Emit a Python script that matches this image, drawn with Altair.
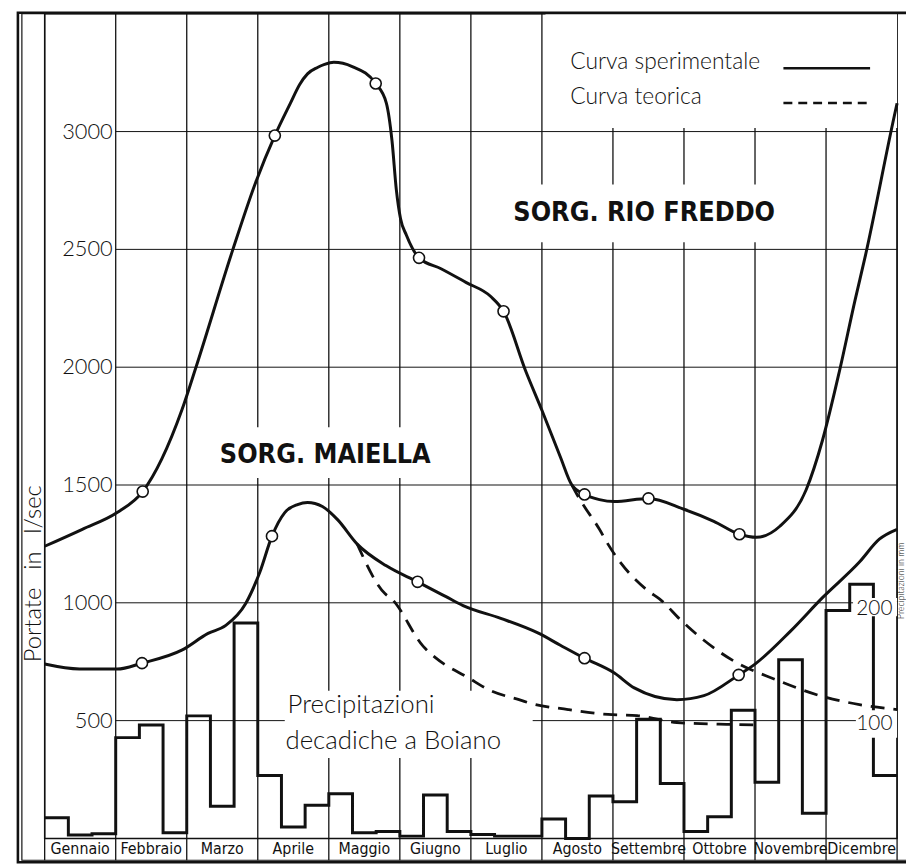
import altair as alt
import pandas as pd

# ---------------- data ----------------
months = ["Gennaio", "Febbraio", "Marzo", "Aprile", "Maggio", "Giugno",
          "Luglio", "Agosto", "Settembre", "Ottobre", "Novembre", "Dicembre"]

# precipitazioni decadiche a Boiano (mm), 3 decadi per mese
precip_mm = [18, 3, 4, 88, 99, 5, 107, 28, 188, 55, 10, 29,
             39, 5, 6, 2, 38, 6, 3.5, 2, 2, 17, 0, 37,
             32, 104, 48, 6, 19, 112, 49, 156, 22, 199, 222, 55]

portate_ticks = [500, 1000, 1500, 2000, 2500, 3000]
precip_ticks = [100, 200]

# Sorgente Rio Freddo - curva sperimentale (mese dall'inizio anno, l/sec)
rf_mese = [0.00, 0.53, 1.02, 1.38, 1.93, 2.13, 2.65, 2.97, 3.24, 3.46, 3.59, 3.70,
           3.84, 3.94, 4.07, 4.33, 4.66, 4.81, 4.89, 4.95, 5.01, 5.09, 5.27, 5.58, 5.93,
           6.28, 6.46, 6.77, 7.00, 7.26, 7.42, 7.60, 7.81, 8.02, 8.50, 9.00, 9.42,
           9.78, 10.02, 10.35, 10.72, 10.95, 11.19, 11.41, 11.55, 11.96, 12.00]
rf_portata = [1240, 1312, 1383, 1472, 1817, 2000, 2500, 2784, 2983, 3121, 3200, 3245,
              3272, 3285, 3294, 3276, 3204, 3121, 2960, 2755, 2630, 2562, 2464, 2418, 2360,
              2300, 2237, 1985, 1817, 1619, 1501, 1460, 1438, 1430, 1443, 1397, 1346,
              1291, 1278, 1325, 1480, 1690, 1985, 2287, 2468, 3065, 3120]

# Rio Freddo - curva teorica
rft_mese = [7.42, 7.51, 7.81, 7.93, 8.51, 8.65, 8.96, 9.28, 9.70, 10.30, 10.91, 11.47, 12.00]
rft_portata = [1501, 1451, 1312, 1249, 1047, 1018, 925, 841, 753, 673, 606, 568, 547]

# Sorgente Maiella - curva sperimentale
ma_mese = [0.00, 0.49, 1.02, 1.37, 1.93, 2.30, 2.55, 2.83, 3.03, 3.20, 3.38, 3.56,
           3.70, 3.91, 4.12, 4.40, 4.81, 5.25, 5.65, 5.89, 6.42, 6.95, 7.26, 7.60,
           8.02, 8.30, 8.90, 9.28, 9.77, 10.00, 10.50, 10.95, 11.47, 11.75, 12.00]
ma_portata = [740, 719, 719, 744, 799, 870, 904, 997, 1131, 1283, 1383, 1417,
              1426, 1409, 1354, 1249, 1157, 1089, 1026, 988, 934, 871, 820, 765,
              702, 639, 589, 606, 694, 740, 880, 1022, 1173, 1270, 1312]

# Maiella - curva teorica
mat_mese = [4.40, 4.79, 4.88, 5.33, 5.51, 5.97, 6.25, 6.72, 6.81, 7.37, 7.93, 8.34, 8.90, 9.60, 9.98]
mat_portata = [1249, 1039, 1018, 815, 765, 681, 631, 585, 576, 547, 526, 521, 492, 484, 482]

# punti sperimentali (cerchi)
rfp_mese = [1.38, 3.24, 4.66, 5.27, 6.46, 7.60, 8.50, 9.78]
rfp_portata = [1472, 2983, 3204, 2464, 2237, 1460, 1443, 1291]
map_mese = [1.37, 3.20, 5.25, 7.60, 9.77]
map_portata = [744, 1283, 1089, 765, 694]

# ---------------- helpers ----------------
XD, QD, PD = [0, 12], [0, 3500], [0, 720]
THIN = "Lato"
COND = "DejaVu Sans Condensed, Liberation Sans Narrow, DejaVu Sans"
INK = "#111111"


def X(f):
    return alt.X(f, type="quantitative", scale=alt.Scale(domain=XD, nice=False, zero=False), axis=None)


def Yq(f):
    return alt.Y(f, type="quantitative", scale=alt.Scale(domain=QD, nice=False), axis=None)


def Yp(f):
    return alt.Y(f, type="quantitative", scale=alt.Scale(domain=PD, nice=False), axis=None)


one = alt.Data(values=[{"k": 1}])

# ---------------- grid ----------------
grid_h = alt.Chart(pd.DataFrame({"q": portate_ticks, "x0": 1, "x1": 12})).mark_rule(
    color=INK, strokeWidth=1).encode(x=X("x0"), x2=alt.X2("x1"), y=Yq("q"))

grid_v = alt.Chart(pd.DataFrame({"m": list(range(13))})).mark_rule(
    color=INK, strokeWidth=1.3).encode(x=X("m"), y=alt.value(0), y2=alt.value(854))

# white areas behind the hand lettering (hide the grid there)
mask_df = pd.DataFrame({
    "x0": [7.05, 6.6, 2.6, 3.38],
    "x1": [12.0, 10.45, 5.6, 6.87],
    "y0": [3015, 2530, 1530, 341],
    "y1": [3500, 2775, 1745, 627],
})
masks = alt.Chart(mask_df).mark_rect(color="white").encode(
    x=X("x0"), x2=alt.X2("x1"), y=Yq("y0"), y2=alt.Y2("y1"))

# ---------------- precipitation steps ----------------
step_df = pd.DataFrame({"t": [i / 3 for i in range(36)] + [12],
                        "mm": precip_mm + [precip_mm[-1]]})
precip = alt.Chart(step_df).mark_line(
    interpolate="step-after", color=INK, strokeWidth=3).encode(x=X("t"), y=Yp("mm"))

rmask_df = pd.DataFrame({"x0": [11.38, 11.42], "x1": [12, 12], "y0": [194, 88], "y1": [210, 112]})
rmasks = alt.Chart(rmask_df).mark_rect(color="white").encode(
    x=X("x0"), x2=alt.X2("x1"), y=Yp("y0"), y2=alt.Y2("y1"))
rlabels = alt.Chart(pd.DataFrame({"mm": precip_ticks, "x": 11.68})).mark_text(
    font=THIN, fontWeight=300, fontSize=21, color=INK, baseline="middle").encode(
    x=X("x"), y=Yp("mm"), text=alt.Text("mm:Q", format="d"))

# ---------------- curves ----------------
def curve(xs, ys, dashed=False):
    kw = dict(interpolate="monotone", color=INK, strokeWidth=3)
    if dashed:
        kw.update(strokeDash=[14, 9], strokeWidth=2.8)
    return alt.Chart(pd.DataFrame({"m": xs, "q": ys})).mark_line(**kw).encode(
        x=X("m"), y=Yq("q"), order="m:Q")


rf = curve(rf_mese, rf_portata)
rft = curve(rft_mese, rft_portata, dashed=True)
ma = curve(ma_mese, ma_portata)
mat = curve(mat_mese, mat_portata, dashed=True)

pts_df = pd.DataFrame({"m": rfp_mese + map_mese, "q": rfp_portata + map_portata})
pts = alt.Chart(pts_df).mark_point(
    shape="circle", filled=True, fill="white", stroke=INK, strokeWidth=1.6,
    size=125, opacity=1).encode(x=X("m"), y=Yq("q"))

# ---------------- text ----------------
ylabels = alt.Chart(pd.DataFrame({"q": portate_ticks, "x": 1})).mark_text(
    font=THIN, fontWeight=300, fontSize=22, color=INK, align="right", baseline="middle", dx=-3).encode(
    x=X("x"), y=Yq("q"), text=alt.Text("q:Q", format="d"))

mlabels = alt.Chart(pd.DataFrame({"mc": [i + 0.5 for i in range(12)], "name": months})).mark_text(
    font=COND, fontSize=16, color=INK, baseline="middle").encode(
    x=X("mc"), y=alt.value(843), text="name:N")

titles = alt.Chart(pd.DataFrame({"x": [8.44, 3.95], "q": [2654, 1628],
                                 "t": ["SORG. RIO FREDDO", "SORG. MAIELLA"]})).mark_text(
    font=COND, fontWeight="bold", fontSize=27, color=INK, baseline="middle").encode(
    x=X("x"), y=Yq("q"), text="t:N")

prec_txt = alt.Chart(pd.DataFrame({"x": [3.42, 3.39], "q": [534, 379],
                                   "t": ["Precipitazioni", "decadiche a Boiano"]})).mark_text(
    font=THIN, fontWeight=300, fontSize=26, color=INK, align="left", baseline="alphabetic").encode(
    x=X("x"), y=Yq("q"), text="t:N")

leg_txt = alt.Chart(pd.DataFrame({"x": [7.40, 7.40], "q": [3264, 3117],
                                  "t": ["Curva sperimentale", "Curva teorica"]})).mark_text(
    font=THIN, fontWeight=300, fontSize=23, color=INK, align="left", baseline="alphabetic").encode(
    x=X("x"), y=Yq("q"), text="t:N")

leg_solid = alt.Chart(pd.DataFrame({"x0": [10.4], "x1": [11.62], "q": [3269]})).mark_rule(
    color=INK, strokeWidth=2.5).encode(x=X("x0"), x2=alt.X2("x1"), y=Yq("q"))
leg_dash = alt.Chart(pd.DataFrame({"x0": [10.4], "x1": [11.62], "q": [3121]})).mark_rule(
    color=INK, strokeWidth=2.5, strokeDash=[9, 6]).encode(x=X("x0"), x2=alt.X2("x1"), y=Yq("q"))

left_title = alt.Chart(alt.Data(values=[{"t": "Portate\u2003in\u2003l/sec"}])).mark_text(
    font=THIN, fontWeight=300, fontSize=24, color=INK, angle=270, baseline="middle").encode(
    x=alt.value(-11), y=alt.value(565), text="t:N")
right_title = alt.Chart(alt.Data(values=[{"t": "Precipitazioni in mm"}])).mark_text(
    font=THIN, fontWeight=300, fontSize=9, color=INK, angle=270, baseline="bottom").encode(
    x=alt.value(868.5), y=alt.value(572), text="t:N")

# ---------------- frame ----------------
inner = alt.Chart(one).mark_rect(fillOpacity=0, stroke=INK, strokeWidth=1.2).encode(
    x=alt.value(-23), x2=alt.value(880), y=alt.value(0), y2=alt.value(854))
outer = alt.Chart(one).mark_rect(fillOpacity=0, stroke=INK, strokeWidth=2.6).encode(
    x=alt.value(-27), x2=alt.value(885), y=alt.value(-1), y2=alt.value(856))

chart = alt.layer(
    grid_h, grid_v, masks, precip, rmasks, rlabels,
    rf, rft, ma, mat, pts,
    ylabels, mlabels, titles, prec_txt, leg_txt, leg_solid, leg_dash,
    left_title, right_title, inner, outer,
).resolve_scale(y="independent").properties(
    width=860, height=832,
    autosize=alt.AutoSizeParams(type="none"),
    padding={"left": 37, "top": 2, "right": 9, "bottom": 24},
    background="white",
).configure_view(stroke=INK, strokeWidth=1.5)

chart.save("out.html", embed_options={"renderer": "svg", "actions": False})
